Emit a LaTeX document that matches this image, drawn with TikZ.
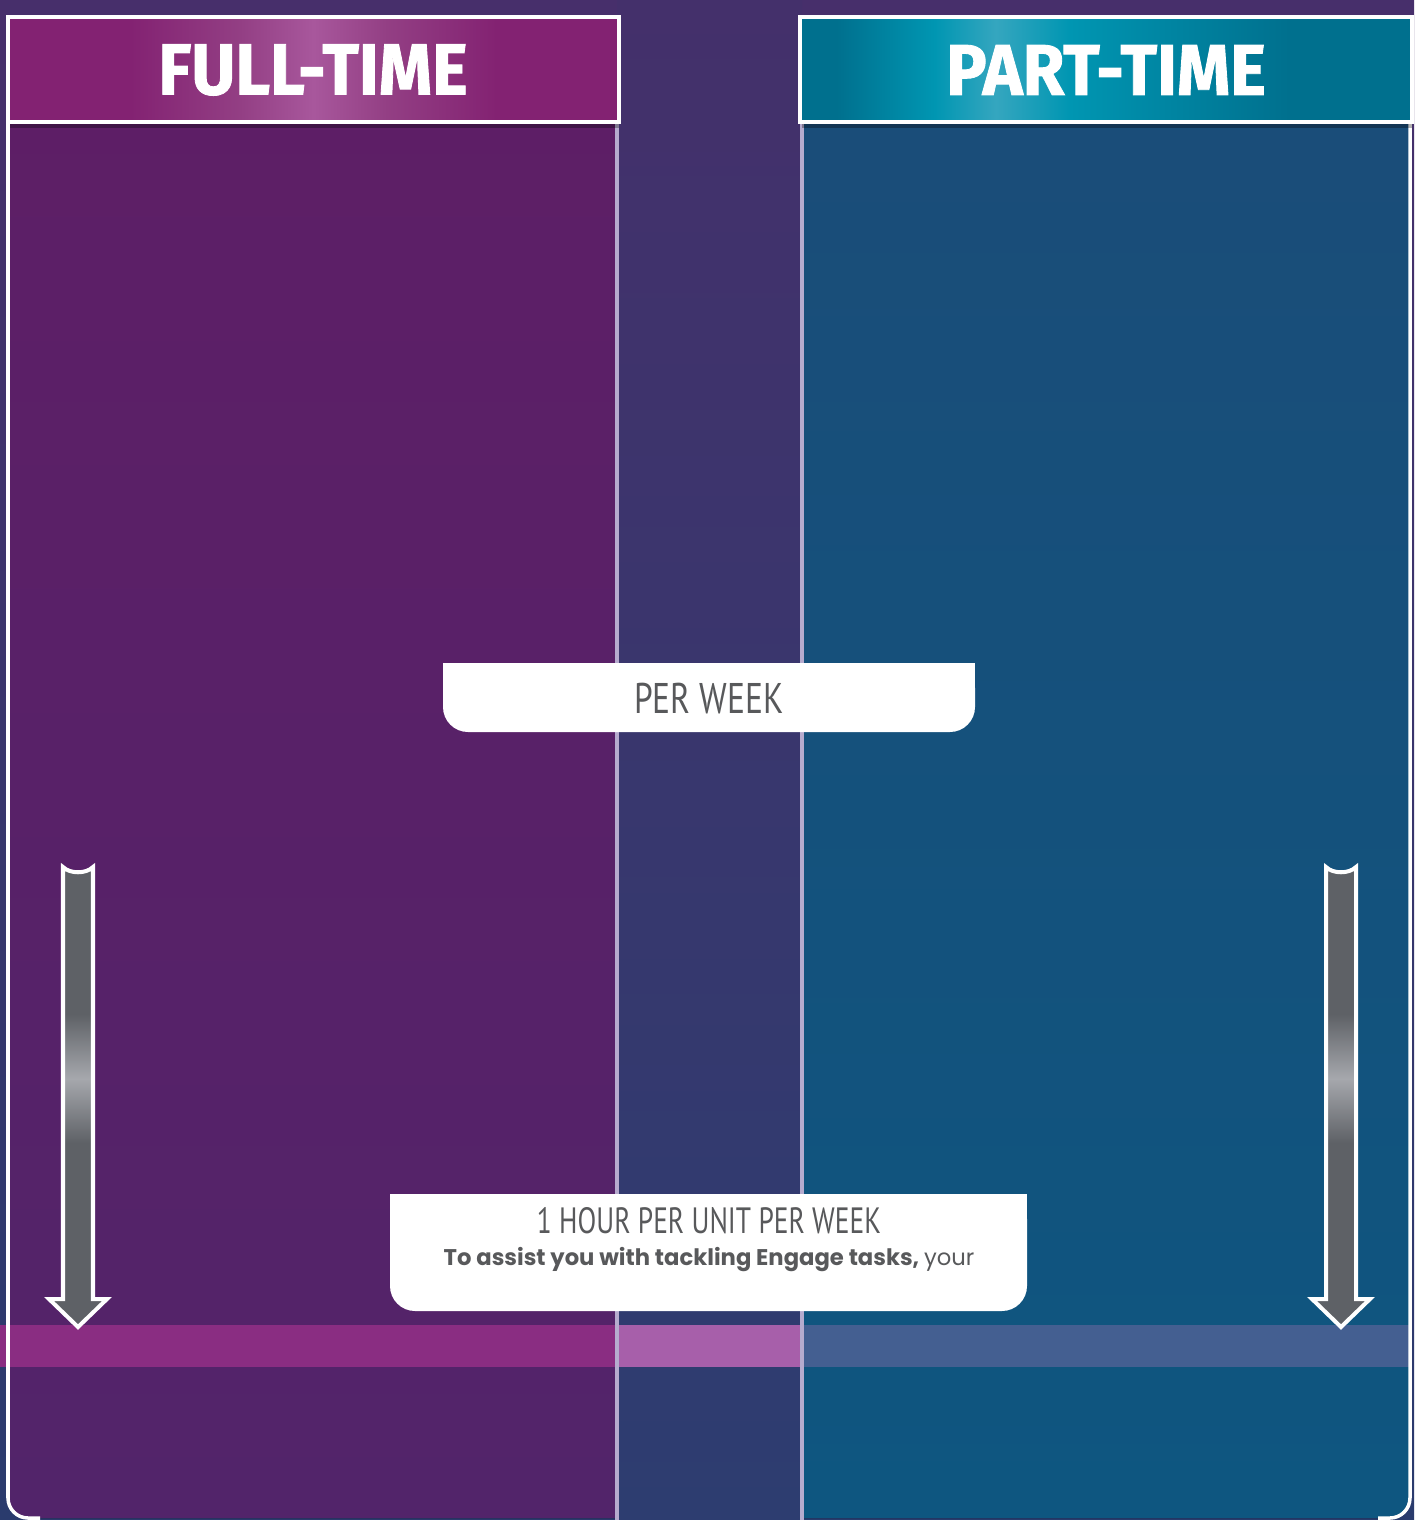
\documentclass[tikz,border=0pt]{standalone}
\usepackage{fontspec}
\usetikzlibrary{positioning}
\newfontfamily\headfont[FakeStretch=0.94, BoldFeatures={FakeBold=1.2}]{Fira Sans}
\newfontfamily\boxfont[FakeStretch=0.78]{PT Sans}
\newfontfamily\hourfont[FakeStretch=0.75]{PT Sans}
\newfontfamily\notefont{Poppins}

\definecolor{bgtop}{HTML}{472F6B}
\definecolor{bgbot}{HTML}{2A3B6D}
\definecolor{midtop}{HTML}{44306B}
\definecolor{midbot}{HTML}{2D3D70}
\definecolor{ftpaneltop}{HTML}{5E1E66}
\definecolor{ftpanelbot}{HTML}{52246A}
\definecolor{ptpaneltop}{HTML}{1B4C78}
\definecolor{ptpanelbot}{HTML}{0E5680}
\definecolor{ftdark}{HTML}{832272}
\definecolor{ftmid}{HTML}{933F84}
\definecolor{ftlight}{HTML}{A8579C}
\definecolor{ptdark}{HTML}{00708E}
\definecolor{ptmid}{HTML}{0096B2}
\definecolor{ptlight}{HTML}{35A6BF}
\definecolor{divline}{HTML}{B6ABCE}
\definecolor{boxgrey}{HTML}{58595B}
\definecolor{arrowgrey}{HTML}{5E6166}
\definecolor{arrowlight}{HTML}{A6A8AD}
\definecolor{bandft}{HTML}{8A2D82}
\definecolor{bandmid}{HTML}{A75FAA}
\definecolor{bandpt}{HTML}{445F91}

\pgfdeclarehorizontalshading{ftshade}{100bp}{color(0bp)=(ftdark); color(25bp)=(ftdark); color(35bp)=(ftdark); color(44bp)=(ftmid); color(50bp)=(ftlight); color(56bp)=(ftmid); color(65bp)=(ftdark); color(75bp)=(ftdark); color(100bp)=(ftdark)}
\pgfdeclarehorizontalshading{ptshade}{100bp}{color(0bp)=(ptdark); color(25bp)=(ptdark); color(28bp)=(ptdark); color(36bp)=(ptmid); color(41bp)=(ptlight); color(47bp)=(ptmid); color(65bp)=(ptdark); color(75bp)=(ptdark); color(100bp)=(ptdark)}
\pgfdeclareverticalshading{arrowshade}{100bp}{color(0bp)=(arrowgrey); color(25bp)=(arrowgrey); color(45bp)=(arrowgrey); color(52bp)=(arrowlight); color(59bp)=(arrowgrey); color(75bp)=(arrowgrey); color(100bp)=(arrowgrey)}

\begin{document}
\begin{tikzpicture}[x=0.01cm,y=-0.01cm]
\tikzstyle{head} = [text=white, inner sep=0pt, font=\headfont\bfseries\fontsize{20.5}{24}\selectfont]
\tikzstyle{boxtext} = [text=boxgrey, inner sep=0pt, font=\boxfont\fontsize{12.2}{14}\selectfont]
\tikzstyle{notetext} = [text=boxgrey, inner sep=0pt, font=\notefont\fontsize{6.45}{8}\selectfont]
\tikzstyle{divider} = [draw=divline, line width=0.04cm]
\tikzstyle{rim} = [draw=white, line width=0.035cm, rounded corners=0.2cm]
\tikzstyle{timearrow} = [draw=white, line width=0.04cm, shading=arrowshade, miter limit=20]

\useasboundingbox (0,0) rectangle (1414,1520);
\fill[top color=bgtop, bottom color=bgbot] (0,0) rectangle (1414,1520);

% panels
\fill[top color=ftpaneltop, bottom color=ftpanelbot, rounded corners=0.2cm] (8,30) rectangle (700,1518);
\fill[top color=ptpaneltop, bottom color=ptpanelbot, rounded corners=0.2cm] (700,30) rectangle (1410,1518);
\fill[top color=midtop, bottom color=midbot] (617,0) rectangle (802,1520);

% band
\fill[bandft] (0,1325) rectangle (617,1367);
\fill[bandmid] (617,1325) rectangle (802,1367);
\fill[bandpt] (802,1325) rectangle (1410,1367);

\draw[divider] (617,122) -- (617,1520);
\draw[divider] (802,122) -- (802,1520);
\draw[rim] (8,122) -- (8,1518) -- (40,1518);
\draw[rim] (1410,122) -- (1410,1518) -- (1378,1518);

% headers
\fill[black, opacity=0.3] (10,122) rectangle (619,128);
\fill[black, opacity=0.3] (802,122) rectangle (1412,128);
\draw[draw=white, line width=0.04cm, shading=ftshade] (8,17) rectangle (619,122);
\draw[draw=white, line width=0.04cm, shading=ptshade] (800,17) rectangle (1412,122);
\node[head] (fulltime) at (313,70) {FULL-TIME};
\node[head] (parttime) at (1106,70) {PART-TIME};

% boxes
\fill[white, rounded corners=0.25cm] (443,663) rectangle (975,732);
\fill[white] (443,663) rectangle (975,700);
\node[boxtext] (perweek) at (709,699) {PER WEEK};

\fill[white, rounded corners=0.25cm] (390,1194) rectangle (1027,1311);
\fill[white] (390,1194) rectangle (1027,1250);
\node[boxtext, font=\hourfont\fontsize{10.4}{12}\selectfont] (hourunit) at (709,1221) {1 HOUR PER UNIT PER WEEK};
\node[notetext, below=0.12cm of hourunit] (assist) {\bfseries To assist you with tackling Engage tasks, \mdseries your};

% arrows
\draw[timearrow] (63,867) .. controls (70,874) and (86,874) .. (93,867) -- (93,1299) -- (107,1299) -- (78,1327) -- (49,1299) -- (63,1299) -- cycle;
\draw[timearrow] (1326,867) .. controls (1333,874) and (1349,874) .. (1356,867) -- (1356,1299) -- (1370,1299) -- (1341,1327) -- (1312,1299) -- (1326,1299) -- cycle;
\end{tikzpicture}
\end{document}
